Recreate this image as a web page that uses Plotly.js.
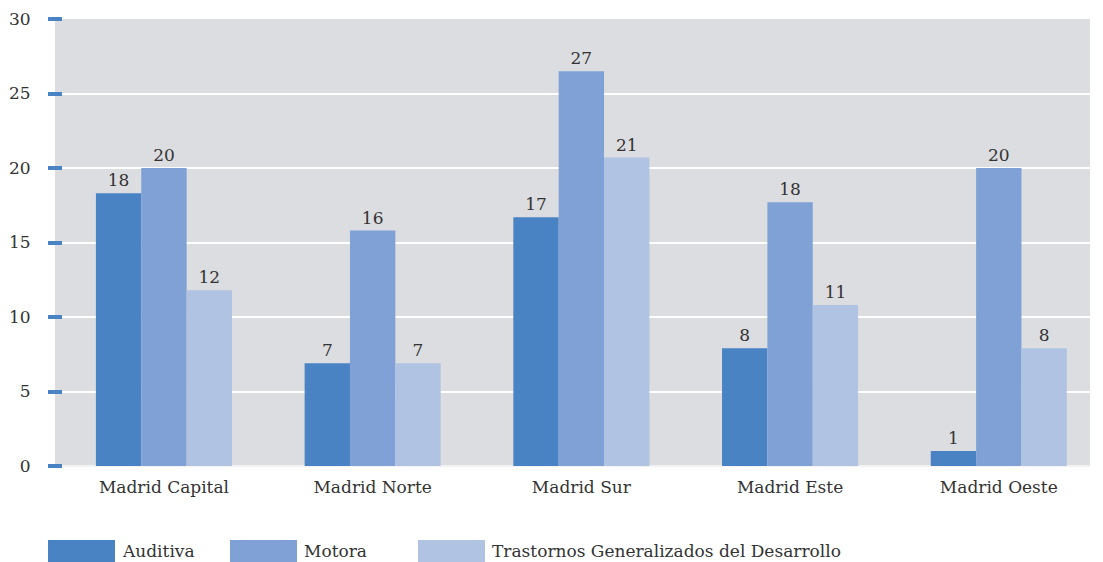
<!DOCTYPE html>
<html><head><meta charset="utf-8">
<script src="https://cdn.plot.ly/plotly-3.0.1.min.js"></script>
<style>body{margin:0;background:#fff}#chart{width:1103px;height:562px}</style>
</head><body><div id="chart"></div>
<script>
const categories = ["Madrid Capital","Madrid Norte","Madrid Sur","Madrid Este","Madrid Oeste"];
const seriesNames = ["Auditiva","Motora","Trastornos Generalizados del Desarrollo"];
const auditiva = [18.3, 6.9, 16.7, 7.9, 1.0];
const motora = [20.0, 15.8, 26.5, 17.7, 20.0];
const tgd = [11.8, 6.9, 20.7, 10.8, 7.9];
const auditivaLabels = ["18","7","17","8","1"];
const motoraLabels = ["20","16","27","18","20"];
const tgdLabels = ["12","7","21","11","8"];
const yTicks = [0,5,10,15,20,25,30];

const colors = ["#4a83c4","#7fa1d5","#b1c3e3"];
const font = "DejaVu Serif";
const values = [auditiva, motora, tgd];
const labels = [auditivaLabels, motoraLabels, tgdLabels];

const W = 1103, H = 562, ML = 55, MR = 13, MT = 19, MB = 96;
const PW = W - ML - MR, PH = H - MT - MB;
const px2x = p => (p - ML) / PW;
const px2y = p => (H - MB - p) / PH;

const traces = values.map((v,i)=>({type:"bar", x:categories, y:v, name:seriesNames[i],
  marker:{color:colors[i]}, text:labels[i], textposition:"outside", cliponaxis:false,
  textfont:{family:font,size:17,color:"#333"}, hoverinfo:"x+y"}));

// legend drawn as swatches + text
const legendStarts = [48, 230, 418];
const shapes = [], annotations = [];
seriesNames.forEach((n,i)=>{
  const x0 = legendStarts[i];
  shapes.push({type:"rect", xref:"paper", yref:"paper", x0:px2x(x0), x1:px2x(x0+67),
    y0:px2y(562), y1:px2y(540), fillcolor:colors[i], line:{width:0}, layer:"above"});
  annotations.push({xref:"paper", yref:"paper", x:px2x(x0+72), y:px2y(551), xanchor:"left",
    yanchor:"middle", text:n, showarrow:false, font:{family:font,size:17,color:"#333"}});
});

const layout = {
  width:W, height:H,
  margin:{l:ML,r:MR,t:MT,b:MB,autoexpand:false},
  paper_bgcolor:"#fff", plot_bgcolor:"#dcdde0",
  barmode:"group", bargap:0.348, bargroupgap:0,
  font:{family:font,size:16,color:"#333"},
  showlegend:false,
  xaxis:{range:[-0.522,4.437], showgrid:false, zeroline:false, ticks:"",
    tickfont:{family:font,size:17,color:"#333"}, ticklabelstandoff:9},
  yaxis:{range:[0,30], tickvals:yTicks, showgrid:true, gridcolor:"#ffffff", gridwidth:2,
    zeroline:true, zerolinecolor:"#f2f2f2", zerolinewidth:2,
    ticks:"outside", ticklen:14, tickwidth:4, tickcolor:"#4a83c4",
    anchor:"free", position:0.0068, tickfont:{family:font,size:17,color:"#333"},
    ticklabelstandoff:14, showline:false},
  shapes:shapes, annotations:annotations
};
Plotly.newPlot("chart", traces, layout, {displayModeBar:false, staticPlot:true});
</script></body></html>
